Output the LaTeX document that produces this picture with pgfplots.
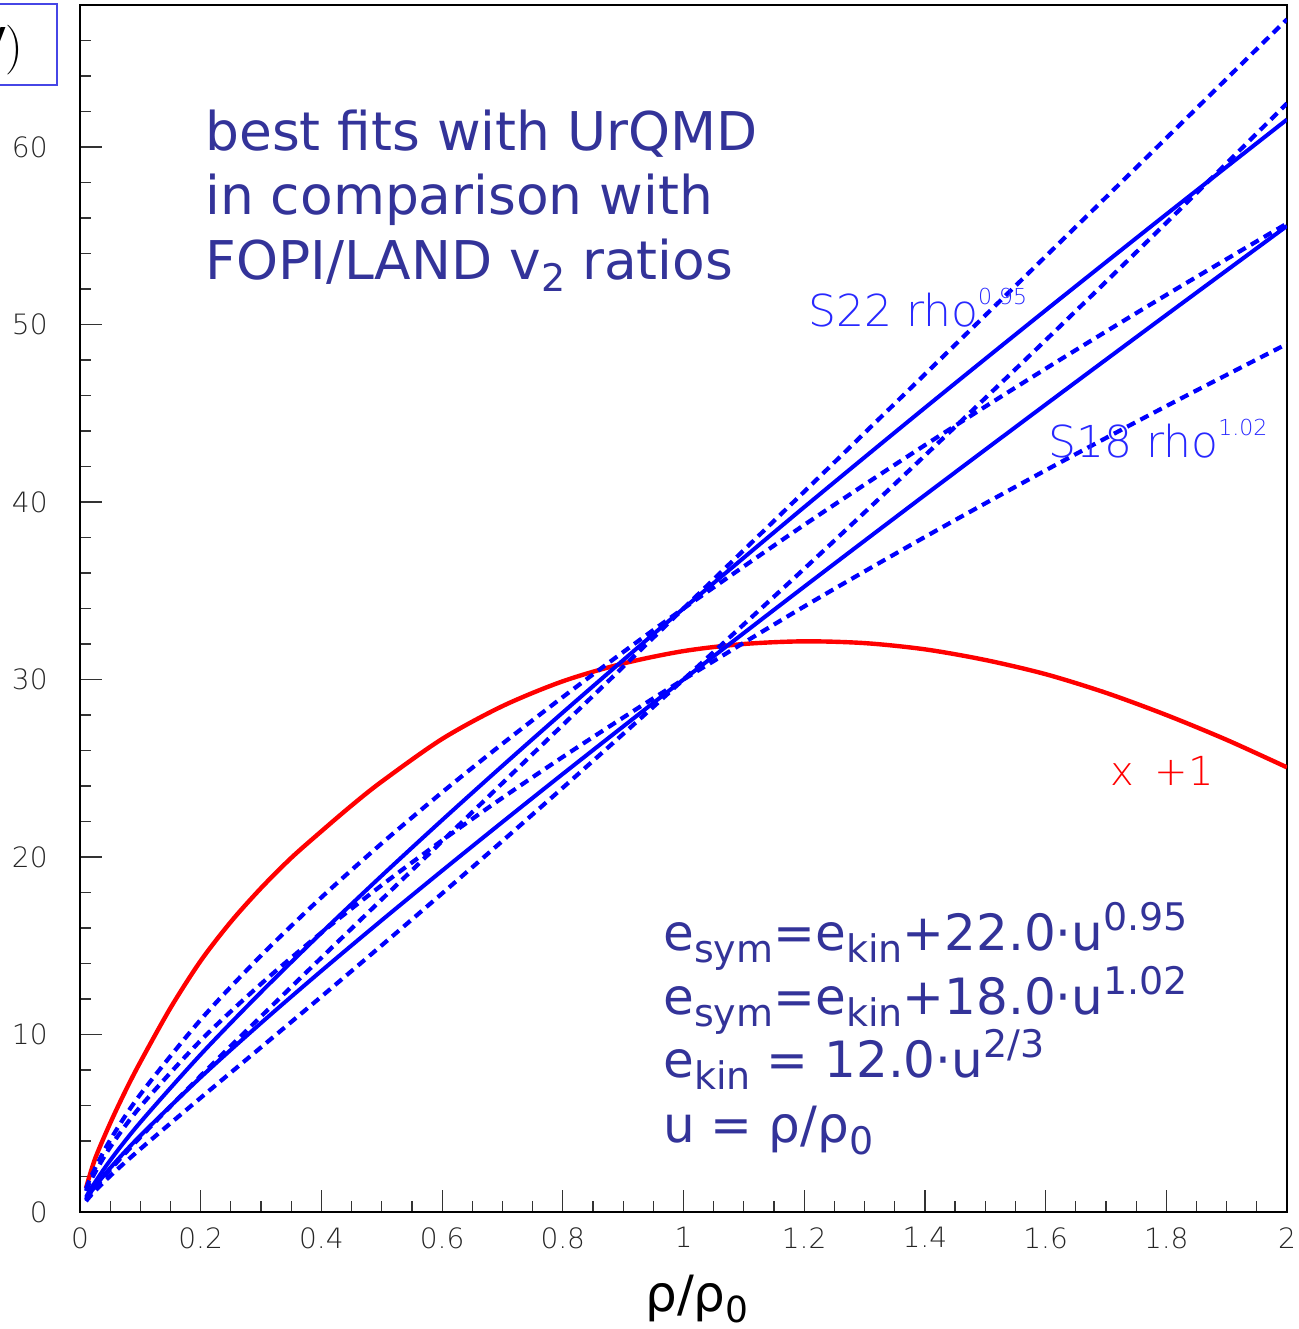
\documentclass[border=0pt]{standalone}
\usepackage{pgfplots}
\pgfplotsset{compat=1.18}
\usepackage{fontspec}
\setmainfont{DejaVu Sans}
\newfontfamily\thinfont{DejaVu Sans ExtraLight}
\definecolor{txtblue}{RGB}{51,51,153}
\definecolor{lblblue}{RGB}{40,40,255}
\definecolor{boxblue}{RGB}{70,70,230}
\newcommand{\sbs}[1]{\raisebox{-6pt}{\fontsize{19}{19}\selectfont #1}}
\newcommand{\sps}[1]{\raisebox{10pt}{\fontsize{19}{19}\selectfont #1}}
\begin{document}
\begin{tikzpicture}
\useasboundingbox (0,0) rectangle (649pt,664.5pt);
\begin{axis}[
  at={(40pt,58.5pt)}, anchor=south west,
  width=603.5pt, height=603.5pt, scale only axis,
  xmin=0, xmax=2, ymin=0, ymax=68,
  axis line style={line width=1.4pt, black},
  xtick={0,0.2,0.4,0.6,0.8,1,1.2,1.4,1.6,1.8,2},
  minor xtick={0,0.05,...,2.01},
  ytick={0,10,20,30,40,50,60},
  minor ytick={0,2,...,68},
  xtick pos=bottom, ytick pos=left,
  tick align=inside,
  major tick length=11pt, minor tick length=5.5pt,
  tick style={line width=0.6pt, black!80},
  ticklabel style={font=\thinfont\fontsize{14}{14}\selectfont, text=black!85},
  /pgf/number format/assume math mode=true,
  yticklabel style={inner sep=0pt, anchor=east, xshift=-16pt},
  xticklabel style={inner sep=0pt, anchor=north, yshift=-7.5pt},
  clip mode=individual,
]
% red curve (x = +1)
\addplot[red, line width=2.2pt, smooth] coordinates {
(0.01,1.35) (0.025,3.0) (0.05,5.0) (0.075,6.8) (0.1,8.45) (0.15,11.5)
(0.2,14.15) (0.25,16.35) (0.3,18.25) (0.35,19.95) (0.4,21.45) (0.45,22.9) (0.5,24.25)
(0.6,26.65) (0.7,28.5) (0.8,29.9) (0.9,30.9) (1.0,31.6) (1.1,32.0)
(1.2,32.15) (1.3,32.05) (1.4,31.7) (1.5,31.1) (1.6,30.3) (1.7,29.25)
(1.8,28.0) (1.9,26.6) (2.0,25.05)};
% S22 rho^0.95 solid
\addplot[blue, line width=2pt, smooth] coordinates {
(0.01,0.834) (0.02,1.419) (0.05,2.907) (0.1,5.053) (0.2,8.873) (0.3,12.387)
(0.4,15.728) (0.5,18.949) (0.6,22.078) (0.7,25.138) (0.8,28.140) (0.9,31.089)
(1.0,34.0) (1.2,39.710) (1.4,45.305) (1.6,50.798) (1.8,56.208) (2.0,61.549)};
% S18 rho^1.02 solid
\addplot[blue, line width=2pt, smooth] coordinates {
(0.01,0.721) (0.02,1.217) (0.05,2.476) (0.1,4.304) (0.2,7.591) (0.3,10.649)
(0.4,13.584) (0.5,16.436) (0.6,19.227) (0.7,21.971) (0.8,24.679) (0.9,27.352)
(1.0,30.0) (1.2,35.227) (1.4,40.389) (1.6,45.488) (1.8,50.539) (2.0,55.551)};
% dashed bands
\addplot[blue, line width=2.1pt, dash pattern=on 4.5pt off 3pt, smooth] coordinates {
(0.01,0.678) (0.02,1.149) (0.05,2.374) (0.1,4.216) (0.2,7.675) (0.3,11.020)
(0.4,14.327) (0.5,17.612) (0.6,20.888) (0.7,24.163) (0.8,27.440) (0.9,30.715)
(1.0,34.0) (1.2,40.584) (1.4,47.196) (1.6,53.834) (1.8,60.502) (2.0,67.196)};
\addplot[blue, line width=2.1pt, dash pattern=on 4.5pt off 3pt, smooth] coordinates {
(0.01,1.299) (0.02,2.120) (0.05,4.054) (0.1,6.627) (0.2,10.834) (0.3,14.447)
(0.4,17.724) (0.5,20.769) (0.6,23.644) (0.7,26.381) (0.8,29.011) (0.9,31.543)
(1.0,34.0) (1.2,38.709) (1.4,43.202) (1.6,47.509) (1.8,51.665) (2.0,55.690)};
\addplot[blue, line width=2.1pt, dash pattern=on 4.5pt off 3pt, smooth] coordinates {
(0.01,0.609) (0.02,1.009) (0.05,2.030) (0.1,3.551) (0.2,6.435) (0.3,9.279)
(0.4,12.137) (0.5,15.024) (0.6,17.946) (0.7,20.904) (0.8,23.902) (0.9,26.931)
(1.0,30.0) (1.2,36.239) (1.4,42.617) (1.6,49.113) (1.8,55.729) (2.0,62.454)};
\addplot[blue, line width=2.1pt, dash pattern=on 4.5pt off 3pt, smooth] coordinates {
(0.01,1.181) (0.02,1.919) (0.05,3.649) (0.1,5.937) (0.2,9.664) (0.3,12.852)
(0.4,15.736) (0.5,18.412) (0.6,20.935) (0.7,23.334) (0.8,25.637) (0.9,27.854)
(1.0,30.0) (1.2,34.113) (1.4,38.029) (1.6,41.783) (1.8,45.402) (2.0,48.906)};
% texts
\node[anchor=base west, inner sep=0pt, text=txtblue, font=\fontsize{26.7}{32}\selectfont] at (axis cs:0.207,59.83) {best fits with UrQMD};
\node[anchor=base west, inner sep=0pt, text=txtblue, font=\fontsize{26.7}{32}\selectfont] at (axis cs:0.207,56.17) {in comparison with};
\node[anchor=base west, inner sep=0pt, text=txtblue, font=\fontsize{26.7}{32}\selectfont] at (axis cs:0.207,52.51) {FOPI/LAND v\sbs{2} ratios};
\node[anchor=base west, inner sep=0pt, text=txtblue, font=\fontsize{25}{30}\selectfont] at (axis cs:0.966,14.76) {e\sbs{sym}=e\sbs{kin}+22.0·u\sps{0.95}};
\node[anchor=base west, inner sep=0pt, text=txtblue, font=\fontsize{25}{30}\selectfont] at (axis cs:0.966,11.15) {e\sbs{sym}=e\sbs{kin}+18.0·u\sps{1.02}};
\node[anchor=base west, inner sep=0pt, text=txtblue, font=\fontsize{25}{30}\selectfont] at (axis cs:0.966,7.55) {e\sbs{kin} = 12.0·u\sps{2/3}};
\node[anchor=base west, inner sep=0pt, text=txtblue, font=\fontsize{25}{30}\selectfont] at (axis cs:0.966,3.89) {u = ρ/ρ\sbs{0}};
\node[anchor=base west, inner sep=0pt, text=lblblue, font=\thinfont\fontsize{22}{22}\selectfont] at (axis cs:1.206,49.86) {S22 rho\raisebox{11pt}{\fontsize{11}{11}\selectfont 0.95}};
\node[anchor=base west, inner sep=0pt, text=lblblue, font=\thinfont\fontsize{22}{22}\selectfont] at (axis cs:1.604,42.48) {S18 rho\raisebox{11pt}{\fontsize{11}{11}\selectfont 1.02}};
\node[anchor=base west, inner sep=0pt, text=red, font=\thinfont\fontsize{20}{20}\selectfont] at (axis cs:1.707,24.0) {x\hspace{4pt} +1};
\end{axis}
\node[anchor=base, inner sep=0pt, font=\fontsize{25}{25}\selectfont] at (348.5pt,9pt) {ρ/ρ\raisebox{-5.5pt}{\fontsize{18}{18}\selectfont 0}};
\draw[draw=boxblue, line width=0.6pt] (-5pt,622pt) rectangle (28.5pt,662.5pt);
\node[anchor=base east, inner sep=0pt] at (12pt,633pt) {\fontsize{24}{24}\selectfont $(\mathrm{MeV})$};
\end{tikzpicture}
\end{document}
